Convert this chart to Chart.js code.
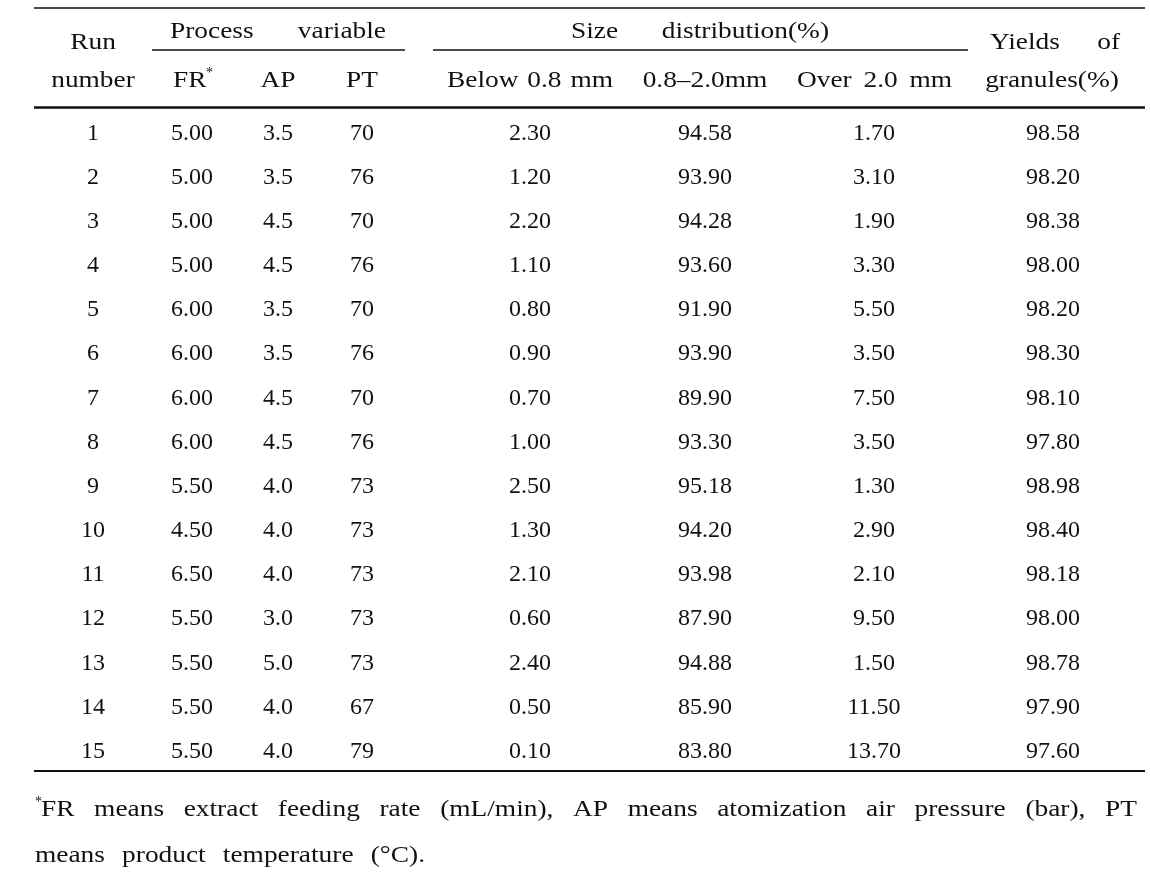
<!DOCTYPE html>
<html>
<head>
<meta charset="utf-8">
<script src="https://cdn.jsdelivr.net/npm/chart.js@4/dist/chart.umd.min.js"></script>
<style>
  html, body { margin: 0; background: #fff; }
  #wrap { width: 1150px; height: 878px; }
</style>
</head>
<body>
<div id="wrap"><canvas id="runTable"></canvas></div>
<script>
// table values, one array per column
const runNumbers = [1, 2, 3, 4, 5, 6, 7, 8, 9, 10, 11, 12, 13, 14, 15];
const feedRate = [5.00, 5.00, 5.00, 5.00, 6.00, 6.00, 6.00, 6.00, 5.50, 4.50, 6.50, 5.50, 5.50, 5.50, 5.50];
const airPressure = [3.5, 3.5, 4.5, 4.5, 3.5, 3.5, 4.5, 4.5, 4.0, 4.0, 4.0, 3.0, 5.0, 4.0, 4.0];
const productTemp = [70, 76, 70, 76, 70, 76, 70, 76, 73, 73, 73, 73, 73, 67, 79];
const below08 = [2.30, 1.20, 2.20, 1.10, 0.80, 0.90, 0.70, 1.00, 2.50, 1.30, 2.10, 0.60, 2.40, 0.50, 0.10];
const mid0820 = [94.58, 93.90, 94.28, 93.60, 91.90, 93.90, 89.90, 93.30, 95.18, 94.20, 93.98, 87.90, 94.88, 85.90, 83.80];
const over20 = [1.70, 3.10, 1.90, 3.30, 5.50, 3.50, 7.50, 3.50, 1.30, 2.90, 2.10, 9.50, 1.50, 11.50, 13.70];
const yields = [98.58, 98.20, 98.38, 98.00, 98.20, 98.30, 98.10, 97.80, 98.98, 98.40, 98.18, 98.00, 98.78, 97.90, 97.60];

const footnoteLine1 = 'FR means extract feeding rate (mL/min), AP means atomization air pressure (bar), PT';
const footnoteLine2 = 'means product temperature (\u00B0C).';

// layout (x in canvas units, y in row units)
const colX = [93, 192, 278, 362, 530, 705, 874, 1053];
const rowAt = { top: -1.795, head1: -1.297, head1b: -1.048, subRule: -0.845, head2: -0.188,
                headRule: 0.457, bottomRule: 15.475, foot1: 16.312, foot2: 17.353 };
const FONT = '23px "Liberation Serif", "DejaVu Serif", serif';
const NUM_FONT = '24px "Liberation Serif", "DejaVu Serif", serif';
const SMALL = '14px "Liberation Serif", "DejaVu Serif", serif';
const INK = '#111111';
const WIDE = 1.19; // words in the source are set wider than the digits

const columns = [
    { values: runNumbers, fmt: v => String(v) },
    { values: feedRate, fmt: v => v.toFixed(2) },
    { values: airPressure, fmt: v => v.toFixed(1) },
    { values: productTemp, fmt: v => String(v) },
    { values: below08, fmt: v => v.toFixed(2) },
    { values: mid0820, fmt: v => v.toFixed(2) },
    { values: over20, fmt: v => v.toFixed(2) },
    { values: yields, fmt: v => v.toFixed(2) },
];

function txt(ctx, s, x, y, align, sx) {
    const w = ctx.measureText(s).width * sx;
    const left = align === 'center' ? x - w / 2 : (align === 'right' ? x - w : x);
    ctx.save();
    ctx.translate(left, y);
    ctx.scale(sx, 1);
    ctx.textAlign = 'left';
    ctx.fillText(s, 0, 0);
    ctx.restore();
    return w;
}

function spread(ctx, words, x0, x1, y, sx) {
    const w = words.map(s => ctx.measureText(s).width * sx);
    const total = w.reduce((a, b) => a + b, 0);
    const gap = words.length > 1 ? (x1 - x0 - total) / (words.length - 1) : 0;
    let x = x0;
    words.forEach((s, i) => { txt(ctx, s, x, y, 'left', sx); x += w[i] + gap; });
}

const tablePlugin = {
    id: 'tablePlugin',
    afterDatasetsDraw(chart) {
        const ctx = chart.ctx;
        const xs = chart.scales.x, ys = chart.scales.y;
        const px = v => xs.getPixelForValue(v);
        const py = v => ys.getPixelForValue(v);
        const base = 8; // baseline offset from the row centre
        ctx.save();
        ctx.fillStyle = INK;
        ctx.strokeStyle = INK;

        // rules
        const rule = (x0, x1, yv, lw) => {
            ctx.lineWidth = lw;
            ctx.beginPath();
            ctx.moveTo(px(x0), py(yv));
            ctx.lineTo(px(x1), py(yv));
            ctx.stroke();
        };
        rule(34, 1145, rowAt.top, 1.5);
        rule(152, 405, rowAt.subRule, 1.5);
        rule(433, 968, rowAt.subRule, 1.5);
        rule(34, 1145, rowAt.headRule, 2.5);
        rule(34, 1145, rowAt.bottomRule, 2);

        // header
        ctx.font = FONT;
        ctx.textBaseline = 'alphabetic';
        const h1 = py(rowAt.head1) + base, h1b = py(rowAt.head1b) + base, h2 = py(rowAt.head2) + base;
        txt(ctx, 'Run', px(colX[0]), h1b, 'center', WIDE);
        txt(ctx, 'number', px(colX[0]), h2, 'center', WIDE);
        spread(ctx, ['Process', 'variable'], px(170), px(386), h1, WIDE);
        spread(ctx, ['Size', 'distribution(%)'], px(571), px(829), h1, WIDE);
        spread(ctx, ['Yields', 'of'], px(990), px(1120), h1b, WIDE);
        txt(ctx, 'granules(%)', px(1052), h2, 'center', WIDE);
        txt(ctx, 'FR', px(173), h2, 'left', WIDE);
        txt(ctx, 'AP', px(colX[2]), h2, 'center', WIDE);
        txt(ctx, 'PT', px(colX[3]), h2, 'center', WIDE);
        spread(ctx, ['Below', '0.8', 'mm'], px(447), px(613), h2, WIDE);
        txt(ctx, '0.8\u20132.0mm', px(colX[5]), h2, 'center', WIDE);
        spread(ctx, ['Over', '2.0', 'mm'], px(797), px(952), h2, WIDE);
        ctx.font = SMALL;
        txt(ctx, '*', px(206), h2 - 10, 'left', 1);

        // body cells, placed at each point of the datasets
        ctx.font = NUM_FONT;
        chart.data.datasets.forEach((ds, i) => {
            chart.getDatasetMeta(i).data.forEach((pt, j) => {
                txt(ctx, ds.cellText[j], pt.x, pt.y + base, 'center', 1);
            });
        });

        // footnote
        const f1 = py(rowAt.foot1) + base, f2 = py(rowAt.foot2) + base;
        ctx.font = SMALL;
        txt(ctx, '*', px(35), f1 - 10, 'left', 1);
        ctx.font = FONT;
        spread(ctx, footnoteLine1.split(' '), px(41), px(1137), f1, WIDE);
        spread(ctx, footnoteLine2.split(' '), px(35), px(425), f2, WIDE);
        ctx.restore();
    }
};

new Chart(document.getElementById('runTable'), {
    type: 'scatter',
    data: {
        datasets: columns.map((c, i) => ({
            data: c.values.map((v, j) => ({ x: colX[i], y: j + 1 })),
            cellText: c.values.map(c.fmt),
            pointRadius: 0,
            pointHoverRadius: 0,
        }))
    },
    options: {
        responsive: true,
        maintainAspectRatio: false,
        animation: false,
        events: [],
        layout: { padding: 0 },
        scales: {
            x: { type: 'linear', min: 0, max: 1150, display: false },
            y: { type: 'linear', min: -1.9765, max: 17.897, reverse: true, display: false }
        },
        plugins: { legend: { display: false }, tooltip: { enabled: false } }
    },
    plugins: [tablePlugin]
});
</script>
</body>
</html>
